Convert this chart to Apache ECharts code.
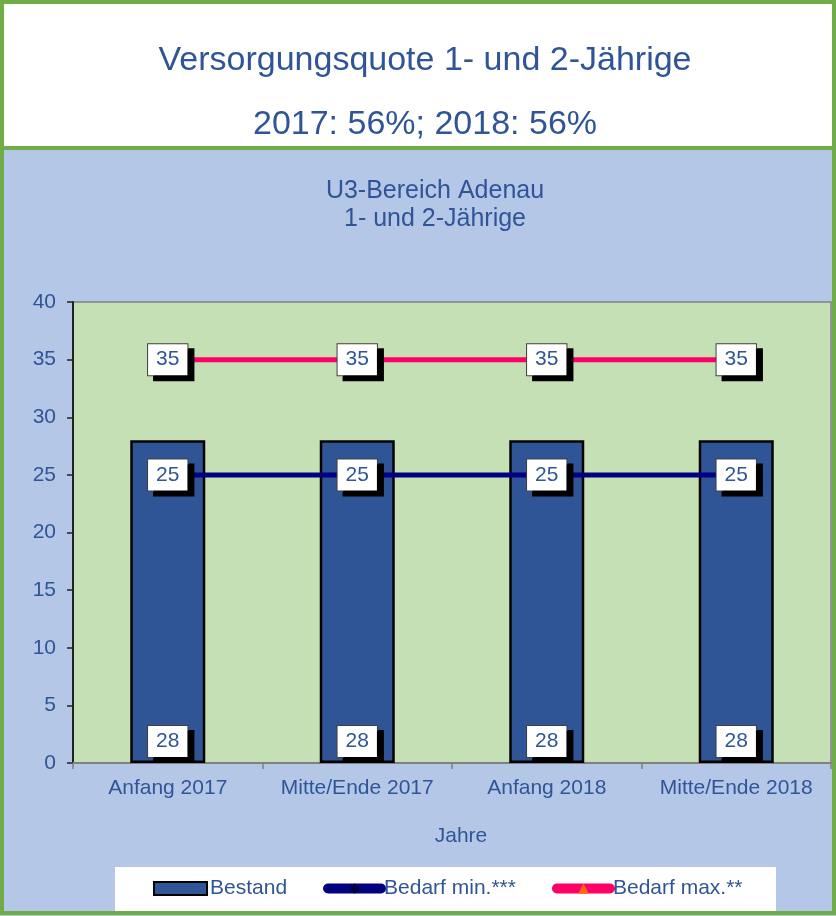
<!DOCTYPE html>
<html><head><meta charset="utf-8">
<script src="https://cdn.jsdelivr.net/npm/echarts@6/dist/echarts.min.js"></script>
<style>html,body{margin:0;padding:0;background:#b4c7e7}#c{width:836px;height:916px}</style>
</head><body><div id="c"></div>
<script>
var categories = ['Anfang 2017', 'Mitte/Ende 2017', 'Anfang 2018', 'Mitte/Ende 2018'];
var bestand = [28, 28, 28, 28];
var bedarfMin = [25, 25, 25, 25];
var bedarfMax = [35, 35, 35, 35];
var yTicks = {min: 0, max: 40, interval: 5};

var FONT = "'Liberation Sans', Arial, sans-serif";
var BLUE = '#2f5597';
var boxLabel = {
  show: true, color: BLUE, fontSize: 21, fontFamily: FONT,
  backgroundColor: '#ffffff', borderColor: '#404040', borderWidth: 1,
  padding: [5, 8, 5, 8], shadowColor: '#000', shadowOffsetX: 6, shadowOffsetY: 5, shadowBlur: 0
};
var chart = echarts.init(document.getElementById('c'), null, {renderer: 'canvas'});
chart.setOption({
  backgroundColor: '#b4c7e7',
  animation: false,
  textStyle: {fontFamily: FONT},
  graphic: [
    {type: 'rect', z: 0, shape: {x: 0, y: 0, width: 836, height: 148}, style: {fill: '#ffffff'}},
    {type: 'rect', z: 0, shape: {x: 115, y: 867, width: 661, height: 46}, style: {fill: '#ffffff'}},
    {type: 'line', z: 10, shape: {x1: 0, y1: 148, x2: 836, y2: 148}, style: {stroke: '#70ad47', lineWidth: 4}},
    {type: 'rect', z: 10, shape: {x: 2, y: 2, width: 832, height: 911}, style: {fill: null, stroke: '#70ad47', lineWidth: 4}},
    {type: 'text', z: 5, x: 461, y: 836, style: {text: 'Jahre', fill: BLUE, font: '21px ' + FONT, align: 'center', verticalAlign: 'middle'}}
  ],
  title: [
    {text: 'Versorgungsquote 1- und 2-Jährige', left: 420, top: 39, textAlign: 'center',
     textStyle: {color: BLUE, fontSize: 34, fontWeight: 'normal', fontFamily: FONT}},
    {text: '2017: 56%; 2018: 56%', left: 420, top: 103, textAlign: 'center',
     textStyle: {color: BLUE, fontSize: 34, fontWeight: 'normal', fontFamily: FONT}},
    {text: 'U3-Bereich Adenau\n1- und 2-Jährige', left: 430, top: 172, textAlign: 'center',
     textStyle: {color: BLUE, fontSize: 25, fontWeight: 'normal', fontFamily: FONT, lineHeight: 28}}
  ],
  legend: {
    left: 153, top: 878, padding: 0, itemWidth: 53, itemHeight: 13, itemGap: 36,
    textStyle: {color: BLUE, fontSize: 21, fontFamily: FONT, padding: [0, 0, 0, -2]},
    lineStyle: {width: 10, cap: 'round'},
    data: [{name: 'Bestand', icon: 'rect'}, 'Bedarf min.***', 'Bedarf max.**']
  },
  grid: {left: 73, right: 5, top: 302, bottom: 153, show: true, backgroundColor: '#c5e0b4',
         borderColor: '#808080', borderWidth: 1.5, containLabel: false},
  xAxis: {
    type: 'category', data: categories,
    axisLine: {lineStyle: {color: '#808080', width: 2}},
    axisTick: {show: true, interval: 0, length: 6, lineStyle: {color: '#808080', width: 1.5}},
    axisLabel: {color: BLUE, fontSize: 21, fontFamily: FONT, margin: 15, interval: 0}
  },
  yAxis: {
    type: 'value', min: yTicks.min, max: yTicks.max, interval: yTicks.interval,
    axisLine: {show: true, lineStyle: {color: '#222', width: 2}},
    axisTick: {show: true, length: 6, lineStyle: {color: '#222', width: 1.5}},
    splitLine: {show: false},
    axisLabel: {color: BLUE, fontSize: 21, fontFamily: FONT, margin: 17}
  },
  series: [
    {name: 'Bestand', type: 'bar', data: bestand, barWidth: 75,
     itemStyle: {color: BLUE, borderColor: '#000', borderWidth: 2.5},
     label: Object.assign({}, boxLabel, {position: 'insideBottom', distance: 6})},
    {name: 'Bedarf min.***', type: 'line', data: bedarfMin, symbol: 'diamond', symbolSize: 9,
     lineStyle: {color: '#000080', width: 5}, itemStyle: {color: '#000040'},
     label: Object.assign({}, boxLabel, {position: 'inside'}), z: 3},
    {name: 'Bedarf max.**', type: 'line', data: bedarfMax, symbol: 'triangle', symbolSize: 12,
     lineStyle: {color: '#ff0066', width: 5}, itemStyle: {color: '#ff6a13'},
     label: Object.assign({}, boxLabel, {position: 'inside'}), z: 3}
  ]
});
</script></body></html>
